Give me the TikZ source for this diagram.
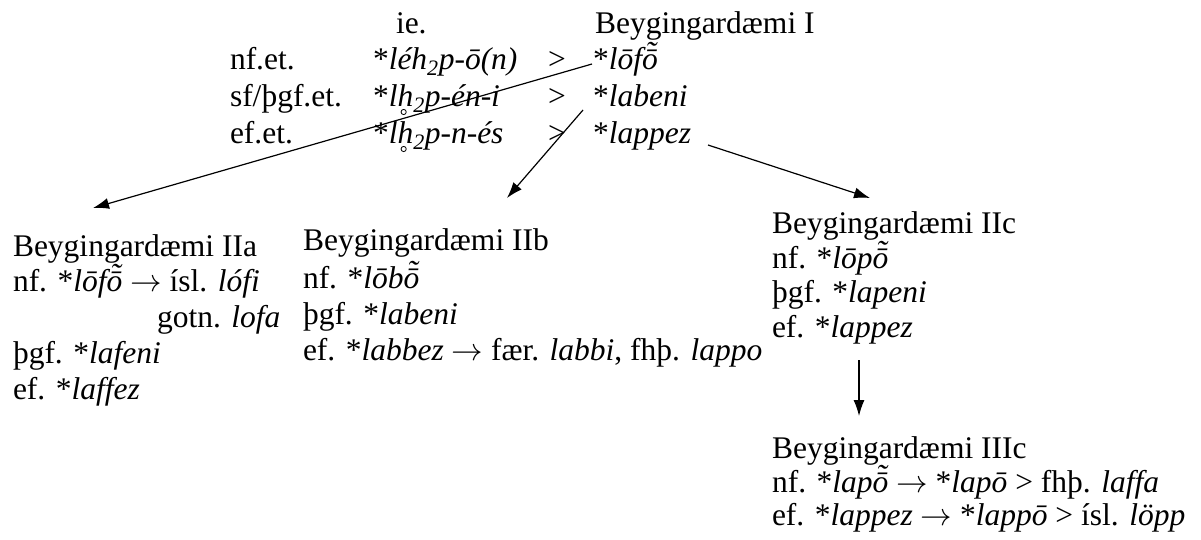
\documentclass[tikz,border=0pt]{standalone}
\usepackage{graphicx}
\usepackage{fontspec}
\setmainfont{Liberation Serif}
\usetikzlibrary{arrows.meta}
\newcommand\otil{\rlap{\kern0.11em\raisebox{0.17em}{˜}}ō}
\newcommand\hring{\rlap{\kern0.10em\tikz[baseline=0pt]\draw[line width=0.8pt] (0pt,-6pt) circle[radius=2.6pt];}h}
\newcommand\tsub[1]{\textsubscript{#1}}
\newcommand\rarr{\resizebox{1em}{!}{$\rightarrow$}}
\tikzset{
  txt/.style={anchor=base west, inner sep=0pt, outer sep=0pt, font=\fontsize{31.5}{36}\selectfont},
  arr/.style={line width=1.2pt, -{Latex[length=16pt,width=11pt]}},
}
\begin{document}
\begin{tikzpicture}[x=1pt,y=-1pt]
\useasboundingbox (0,0) rectangle (1201,539);
% top block
\node[txt] (ie) at (396,33) {ie.};
\node[txt] (BI) at (595,33) {Beygingardæmi I};
\node[txt] (l1) at (230,69) {nf.et.};
\node[txt] (f1) at (373,69) {*\textit{léh\tsub{2}p-ō(n)}};
\node[txt] (g1) at (548,69) {>};
\node[txt] (r1) at (593,69) {*\textit{lōf\otil}};
\node[txt] (l2) at (230,106) {sf/þgf.et.};
\node[txt] (f2) at (373,106) {*\textit{l\hring\tsub{2}p-én-i}};
\node[txt] (g2) at (548,106) {>};
\node[txt] (r2) at (593,106) {*\textit{labeni}};
\node[txt] (l3) at (230,143) {ef.et.};
\node[txt] (f3) at (373,143) {*\textit{l\hring\tsub{2}p-n-és}};
\node[txt] (g3) at (548,143) {>};
\node[txt] (r3) at (593,143) {*\textit{lappez}};
% IIa
\node[txt] (a0) at (13,256) {Beygingardæmi IIa};
\node[txt] (a1) at (13,291) {nf. *\textit{lōf\otil} \rarr{} ísl. \textit{lófi}};
\node[txt] (a2) at (157,327) {gotn. \textit{lofa}};
\node[txt] (a3) at (13,363) {þgf. *\textit{lafeni}};
\node[txt] (a4) at (13,399) {ef. *\textit{laffez}};
% IIb
\node[txt] (b0) at (303,250) {Beygingardæmi IIb};
\node[txt] (b1) at (303,288) {nf. *\textit{lōb\otil}};
\node[txt] (b2) at (303,324) {þgf. *\textit{labeni}};
\node[txt] (b3) at (303,360) {ef. *\textit{labbez} \rarr{} fær. \textit{labbi}, fhþ. \textit{lappo}};
% IIc
\node[txt] (c0) at (772,233) {Beygingardæmi IIc};
\node[txt] (c1) at (772,268) {nf. *\textit{lōp\otil}};
\node[txt] (c2) at (772,302) {þgf. *\textit{lapeni}};
\node[txt] (c3) at (772,337) {ef. *\textit{lappez}};
% IIIc
\node[txt] (d0) at (772,458) {Beygingardæmi IIIc};
\node[txt] (d1) at (772,492) {nf. *\textit{lap\otil} \rarr{} *\textit{lapō} > fhþ. \textit{laffa}};
\node[txt] (d2) at (772,525) {ef. *\textit{lappez} \rarr{} *\textit{lappō} > ísl. \textit{löpp}};
% arrows
\coordinate (s1) at (592,64);  \coordinate (e1) at (93,208);
\coordinate (s2) at (583,110); \coordinate (e2) at (507,198);
\coordinate (s3) at (708,145); \coordinate (e3) at (870,198);
\coordinate (s4) at (859,360); \coordinate (e4) at (859,416);
\draw[arr] (s1) -- (e1);
\draw[arr] (s2) -- (e2);
\draw[arr] (s3) -- (e3);
\draw[arr] (s4) -- (e4);
\end{tikzpicture}
\end{document}
